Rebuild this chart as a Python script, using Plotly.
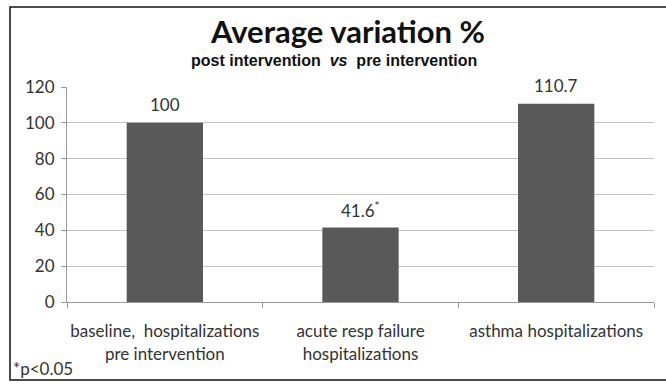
import plotly.graph_objects as go

categories = ["baseline,  hospitalizations<br>pre intervention",
              "acute resp failure<br>hospitalizations",
              "asthma hospitalizations"]
values = [100, 41.6, 110.7]
value_labels = ["100", "41.6<sup>*</sup>", "110.7"]
y_ticks = [0, 20, 40, 60, 80, 100, 120]

FONT = "Lato, 'Open Sans', sans-serif"
TEXT = "#333333"

fig = go.Figure(go.Bar(
    x=categories,
    y=values,
    width=0.39,
    marker=dict(color="#595959", line=dict(width=0)),
    cliponaxis=False,
))

# value labels sit a fixed distance above each bar top
for cat, val, lab in zip(categories, values, value_labels):
    fig.add_annotation(x=cat, y=val, text=lab, showarrow=False,
                       yanchor="middle", yshift=18,
                       font=dict(family=FONT, size=17, color=TEXT))

fig.update_layout(
    width=666, height=385,
    margin=dict(l=67, r=12, t=87, b=83),
    paper_bgcolor="white",
    plot_bgcolor="white",
    showlegend=False,
    xaxis=dict(
        type="category",
        range=[-0.5, 2.5],
        tickson="boundaries",
        ticks="outside", ticklen=5, tickcolor="#999999",
        ticklabelstandoff=14,
        showline=True, linecolor="#999999", linewidth=1,
        showgrid=False,
        tickangle=0,
        tickfont=dict(family=FONT, size=17, color=TEXT),
    ),
    yaxis=dict(
        range=[0, 120],
        tickvals=y_ticks,
        ticks="outside", ticklen=5, tickcolor="#999999",
        ticklabelstandoff=3,
        showline=True, linecolor="#999999", linewidth=1,
        showgrid=True, gridcolor="#c4c4c4", gridwidth=1,
        zeroline=False,
        tickfont=dict(family=FONT, size=17, color=TEXT),
    ),
    shapes=[dict(type="rect", xref="paper", yref="paper",
                 x0=-57 / 587, x1=651 / 587, y0=-78 / 215, y1=295 / 215,
                 line=dict(color="#111111", width=1.5))],
)

fig.add_annotation(text="<b>Average variation %</b>", xref="paper", yref="paper",
                   x=(347 - 67) / 587, y=(302 - 31) / 215,
                   xanchor="center", yanchor="middle", showarrow=False,
                   font=dict(family=FONT, size=31, color="#111111"))
fig.add_annotation(text="<b>post intervention  <i>vs</i>  pre intervention</b>",
                   xref="paper", yref="paper",
                   x=(334 - 67) / 587, y=(302 - 60) / 215,
                   xanchor="center", yanchor="middle", showarrow=False,
                   font=dict(family="'Liberation Sans Narrow', 'Liberation Sans', sans-serif",
                             size=16, color="#111111"))
fig.add_annotation(text="*p<0.05", xref="paper", yref="paper",
                   x=-56 / 587, y=-66 / 215, xanchor="left", yanchor="middle",
                   showarrow=False,
                   font=dict(family=FONT, size=17, color=TEXT))

fig.write_html("out.html")
